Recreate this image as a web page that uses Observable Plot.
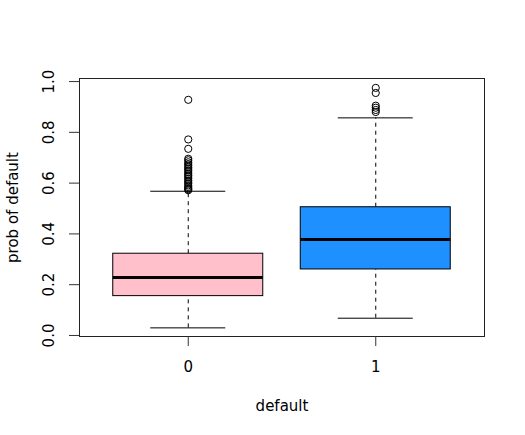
<!DOCTYPE html>
<html>
<head>
<meta charset="utf-8">
<script src="https://cdn.jsdelivr.net/npm/d3@7"></script>
<script src="https://cdn.jsdelivr.net/npm/@observablehq/plot@0.6"></script>
<style>
  html, body { margin: 0; padding: 0; background: white; }
</style>
</head>
<body>
<div id="chart"></div>
<script>
// Categories and summary statistics
const groups = ["0", "1"];
const fills = ["pink", "dodgerblue"];
const whiskLo = [0.030, 0.068];
const q1 = [0.155, 0.260];
const med = [0.228, 0.378];
const q3 = [0.322, 0.505];
const whiskHi = [0.568, 0.857];
const outliers0 = [0.928, 0.772, 0.735, 0.696, 0.690, 0.682, 0.675, 0.669, 0.662, 0.656, 0.650, 0.643, 0.636, 0.630, 0.624, 0.617, 0.610, 0.604, 0.598, 0.591, 0.585, 0.580, 0.576, 0.572];
const outliers1 = [0.975, 0.955, 0.905, 0.897, 0.888, 0.880];
const yTicks = [0, 0.2, 0.4, 0.6, 0.8, 1.0];
const xLabel = "default";
const yLabel = "prob of default";

const boxes = groups.map((g, i) => ({
  pos: i + 1, g, fill: fills[i],
  lo: whiskLo[i], q1: q1[i], med: med[i], q3: q3[i], hi: whiskHi[i]
}));
const outs = [
  ...outliers0.map(v => ({pos: 1, v})),
  ...outliers1.map(v => ({pos: 2, v}))
];

const chart = Plot.plot({
  width: 525,
  height: 435,
  marginLeft: 79,
  marginRight: 41,
  marginTop: 78,
  marginBottom: 99,
  style: {fontFamily: "DejaVu Sans", fontSize: "15px", background: "white", color: "black"},
  x: {domain: [0.42, 2.58], axis: null},
  y: {domain: [-0.004, 1.012], axis: null},
  marks: [
    // whiskers (dashed)
    Plot.ruleX(boxes, {x: "pos", y1: "q3", y2: "hi", stroke: "black", strokeDasharray: "4,4"}),
    Plot.ruleX(boxes, {x: "pos", y1: "lo", y2: "q1", stroke: "black", strokeDasharray: "4,4"}),
    // whisker caps
    Plot.ruleY(boxes, {y: "hi", x1: d => d.pos - 0.2, x2: d => d.pos + 0.2, stroke: "black"}),
    Plot.ruleY(boxes, {y: "lo", x1: d => d.pos - 0.2, x2: d => d.pos + 0.2, stroke: "black"}),
    // boxes
    Plot.rect(boxes, {x1: d => d.pos - 0.4, x2: d => d.pos + 0.4, y1: "q1", y2: "q3", fill: "fill", stroke: "black", strokeWidth: 1}),
    // medians
    Plot.ruleY(boxes, {y: "med", x1: d => d.pos - 0.4, x2: d => d.pos + 0.4, stroke: "black", strokeWidth: 3}),
    // outliers
    Plot.dot(outs, {x: "pos", y: "v", r: 3.6, stroke: "black", fill: "none", strokeWidth: 1}),
    // frame
    Plot.frame({stroke: "#222"}),
    // axes
    Plot.axisY(yTicks, {tickSize: 10, tickPadding: 16, tickRotate: -90, tickFormat: d3.format(".1f"), label: null, stroke: "#333"}),
    Plot.axisX([1, 2], {tickSize: 10, tickPadding: 15, tickFormat: d => groups[d - 1], label: null, stroke: "#333"}),
    // axis titles
    Plot.text([yLabel], {frameAnchor: "left", dx: -66, rotate: -90, text: d => d, textAnchor: "middle", lineAnchor: "middle", fontSize: 15}),
    Plot.text([xLabel], {frameAnchor: "bottom", dy: 70, text: d => d, textAnchor: "middle", lineAnchor: "middle", fontSize: 15})
  ]
});
document.getElementById("chart").appendChild(chart);
</script>
</body>
</html>
